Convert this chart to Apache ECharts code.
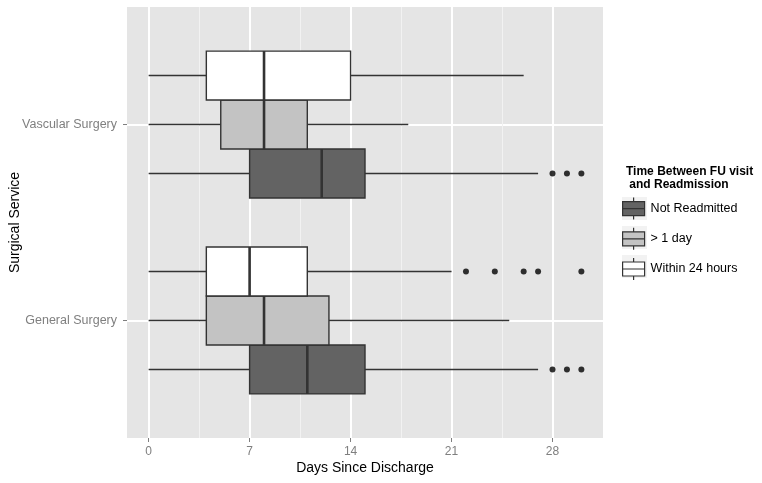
<!DOCTYPE html>
<html>
<head>
<meta charset="utf-8">
<script src="https://cdn.jsdelivr.net/npm/echarts@6/dist/echarts.min.js"></script>
<style>html,body{margin:0;padding:0;background:#fff}#c{width:762px;height:483px}</style>
</head>
<body>
<div id="c"></div>
<script>
// ---- data ----
const categories = ['General Surgery', 'Vascular Surgery'];
const groups = ['Not Readmitted', '> 1 day', 'Within 24 hours'];
// [min, q1, median, q3, max] per category (General, Vascular)
const notReadmitted = [[0, 7, 11, 15, 27], [0, 7, 12, 15, 27]];
const overOneDay = [[0, 4, 8, 12.5, 25], [0, 5, 8, 11, 18]];
const within24h = [[0, 4, 7, 11, 21], [0, 4, 8, 14, 26]];
const outNotReadmitted = [[28, 29, 30], [28, 29, 30]];
const outOverOneDay = [[], []];
const outWithin24h = [[22, 24, 26, 27, 30], []];
const xTicks = [0, 7, 14, 21, 28];
const xMinorTicks = [3.5, 10.5, 17.5, 24.5];

const fills = ['#636363', '#C3C3C3', '#FFFFFF'];
const FONT = '"Liberation Sans", Arial, sans-serif';
const stats = [notReadmitted, overOneDay, within24h];
const outs = [outNotReadmitted, outOverOneDay, outWithin24h];
const DODGE = 0.25;

function renderBox(params, api) {
  const y = api.value(0);
  const mn = api.coord([api.value(1), y]);
  const q1 = api.coord([api.value(2), y]);
  const md = api.coord([api.value(3), y]);
  const q3 = api.coord([api.value(4), y]);
  const mx = api.coord([api.value(5), y]);
  const h = api.size([0, DODGE])[1];
  const fill = api.visual('color');
  const stroke = '#333333';
  return {
    type: 'group',
    children: [
      { type: 'line', shape: { x1: mn[0], y1: mn[1], x2: q1[0], y2: q1[1] }, style: { stroke: stroke, lineWidth: 1.4 } },
      { type: 'line', shape: { x1: q3[0], y1: q3[1], x2: mx[0], y2: mx[1] }, style: { stroke: stroke, lineWidth: 1.4 } },
      { type: 'rect', shape: { x: q1[0], y: q1[1] - h / 2, width: q3[0] - q1[0], height: h }, style: { fill: fill, stroke: stroke, lineWidth: 1.4 } },
      { type: 'line', shape: { x1: md[0], y1: md[1] - h / 2, x2: md[0], y2: md[1] + h / 2 }, style: { stroke: stroke, lineWidth: 2.6 } }
    ]
  };
}

const series = [];
groups.forEach(function (g, gi) {
  const boxData = stats[gi].map(function (s, ci) {
    return [ci + 1 + (gi - 1) * DODGE].concat(s);
  });
  series.push({
    name: g,
    type: 'custom',
    renderItem: renderBox,
    itemStyle: { color: fills[gi], borderColor: '#333333' },
    encode: { x: [1, 2, 3, 4, 5], y: 0 },
    data: boxData,
    z: 3
  });
  const pts = [];
  outs[gi].forEach(function (arr, ci) {
    arr.forEach(function (v) { pts.push([v, ci + 1 + (gi - 1) * DODGE]); });
  });
  series.push({
    name: g + ' outliers',
    type: 'scatter',
    symbolSize: 6,
    itemStyle: { color: '#000000' },
    data: pts,
    z: 4
  });
});

const legendIcon = 'path://M1,4 L23,4 L23,18 L1,18 Z M1,11 L23,11 M12,0 L12,4 M12,18 L12,22';

const chart = echarts.init(document.getElementById('c'), null, { renderer: 'canvas' });
chart.setOption({
  animation: false,
  backgroundColor: '#FFFFFF',
  textStyle: { fontFamily: FONT },
  title: {
    text: 'Time Between FU visit\n and Readmission',
    left: 621, top: 160,
    textStyle: { fontFamily: FONT, fontSize: 12, fontWeight: 'bold', color: '#000', lineHeight: 13 }
  },
  grid: { left: 127, right: 159, top: 7, bottom: 45, show: true, backgroundColor: '#E5E5E5', borderWidth: 0, containLabel: false, outerBoundsMode: 'none' },
  xAxis: [{
    type: 'value', min: -1.5, max: 31.5,
    name: 'Days Since Discharge', nameLocation: 'middle', nameGap: 23, nameMoveOverlap: false,
    nameTextStyle: { fontFamily: FONT, fontSize: 14, color: '#000' },
    axisLine: { show: false, onZero: false },
    axisTick: { show: true, length: 4, lineStyle: { color: '#7F7F7F' }, customValues: xTicks },
    axisLabel: { customValues: xTicks, color: '#7F7F7F', fontSize: 12, margin: 8, fontFamily: FONT },
    splitLine: { show: true, lineStyle: { color: '#FFFFFF', width: 2 } }
  }, {
    type: 'value', min: -1.5, max: 31.5, position: 'top',
    axisLine: { show: false, onZero: false },
    axisTick: { show: false, customValues: xMinorTicks },
    axisLabel: { show: false, customValues: xMinorTicks },
    splitLine: { show: true, lineStyle: { color: '#F2F2F2', width: 1 } }
  }],
  yAxis: {
    type: 'value', min: 0.4, max: 2.6,
    name: 'Surgical Service', nameLocation: 'middle', nameGap: 105, nameMoveOverlap: false,
    nameTextStyle: { fontFamily: FONT, fontSize: 14, color: '#000' },
    axisLine: { show: false, onZero: false },
    axisTick: { show: true, length: 4, lineStyle: { color: '#7F7F7F' }, customValues: [1, 2] },
    axisLabel: {
      customValues: [1, 2], color: '#7F7F7F', fontSize: 12.5, margin: 10, fontFamily: FONT,
      formatter: function (v) { return categories[Math.round(v) - 1]; }
    },
    splitLine: { show: true, lineStyle: { color: '#FFFFFF', width: 2 } }
  },
  legend: {
    orient: 'vertical', left: 622, top: 197, padding: 0,
    itemWidth: 24, itemHeight: 22, itemGap: 7,
    textStyle: { fontFamily: FONT, fontSize: 12.5, color: '#000' },
    data: groups.map(function (g, gi) {
      return { name: g, icon: legendIcon, itemStyle: { color: fills[gi], borderColor: '#333333', borderWidth: 1.2 } };
    })
  },
  graphic: [0, 1, 2].map(function (i) {
    return { type: 'rect', left: 622, top: 197 + i * 29, z: -1, shape: { width: 25, height: 23 }, style: { fill: '#F2F2F2' } };
  }),
  series: series
});
</script>
</body>
</html>
